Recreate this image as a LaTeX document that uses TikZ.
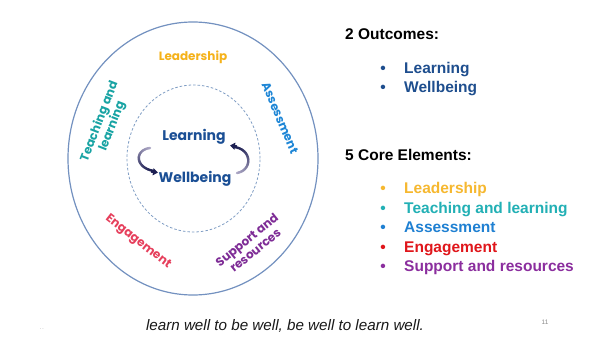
\documentclass[tikz,border=0pt]{standalone}
\usepackage{fontspec}
\setmainfont{Liberation Sans}
\newfontfamily\popf{Poppins}
\usetikzlibrary{arrows.meta,shapes.geometric}
\definecolor{ellcol}{HTML}{7391C0}
\definecolor{dashcol}{HTML}{7F9DC4}
\definecolor{cLead}{HTML}{F5B21A}
\definecolor{cTeach}{HTML}{17A3A3}
\definecolor{cAssess}{HTML}{1E86D6}
\definecolor{cEng}{HTML}{E63F5C}
\definecolor{cSupp}{HTML}{7E2C96}
\definecolor{cNavy}{HTML}{1B4F95}
\definecolor{rLead}{HTML}{F6B830}
\definecolor{rTeach}{HTML}{22B0B5}
\definecolor{rAssess}{HTML}{1F80D2}
\definecolor{rEng}{HTML}{E0161B}
\definecolor{rSupp}{HTML}{8B2E9E}
\definecolor{rNavy}{HTML}{1E4E8E}
\definecolor{arrLight}{HTML}{ABA6C4}
\definecolor{arrDark}{HTML}{1D1F52}
\tikzset{
  ring/.style={font=\popf\bfseries\fontsize{12}{13.5}\selectfont, inner sep=0pt, align=center},
  core/.style={font=\popf\bfseries\fontsize{14}{16}\selectfont, text=cNavy, inner sep=0pt},
  head/.style={font=\bfseries\fontsize{15.5}{18}\selectfont, anchor=base west, inner sep=0pt},
  item/.style={font=\bfseries\fontsize{15.5}{18}\selectfont, anchor=base west, inner sep=0pt},
  bul/.style={font=\bfseries\fontsize{15.5}{18}\selectfont, anchor=base, inner sep=0pt},
}
\begin{document}
\begin{tikzpicture}[x=1pt,y=-1pt]
\useasboundingbox[fill=white] (0,0) rectangle (616,339);
% ellipses
\node[ellipse, draw=ellcol, line width=1.2pt, minimum width=250pt, minimum height=273pt, inner sep=0pt] (outer) at (193,158.5) {};
\node[ellipse, draw=dashcol, line width=0.8pt, dash pattern=on 2.5pt off 2pt, minimum width=133pt, minimum height=147pt, inner sep=0pt] (inner) at (193.5,158.5) {};
% ring labels
\node[ring, text=cLead] (lead) at (193,57) {Leadership};
\node[ring, text=cTeach, rotate=69] (teach) at (106,124) {Teaching and\\learning};
\node[ring, text=cAssess, rotate=-67] (assess) at (280,118) {Assessment};
\node[ring, text=cEng, rotate=-38] (eng) at (138,242) {Engagement};
\node[ring, text=cSupp, rotate=39] (supp) at (251,245) {Support and\\resources};
% core
\node[core] (learn) at (194,137) {Learning};
\node[core] (well) at (195,179) {Wellbeing};
% gradient arrows (cubic bezier sampled)
\foreach \i in {0,...,23}{
  \pgfmathsetmacro{\ta}{\i/24}
  \pgfmathsetmacro{\tb}{(\i+1)/24}
  \pgfmathsetmacro{\pc}{100*\i/23}
  \pgfmathsetmacro{\xa}{(1-\ta)^3*150+3*(1-\ta)^2*\ta*134+3*(1-\ta)*\ta^2*135+\ta^3*154}
  \pgfmathsetmacro{\ya}{(1-\ta)^3*148+3*(1-\ta)^2*\ta*150+3*(1-\ta)*\ta^2*168+\ta^3*171}
  \pgfmathsetmacro{\xb}{(1-\tb)^3*150+3*(1-\tb)^2*\tb*134+3*(1-\tb)*\tb^2*135+\tb^3*154}
  \pgfmathsetmacro{\yb}{(1-\tb)^3*148+3*(1-\tb)^2*\tb*150+3*(1-\tb)*\tb^2*168+\tb^3*171}
  \draw[line width=2.4pt, line cap=round, color=arrDark!\pc!arrLight] (\xa,\ya) -- (\xb,\yb);
  \pgfmathsetmacro{\xc}{(1-\ta)^3*237+3*(1-\ta)^2*\ta*253+3*(1-\ta)*\ta^2*252+\ta^3*234}
  \pgfmathsetmacro{\yc}{(1-\ta)^3*173+3*(1-\ta)^2*\ta*170+3*(1-\ta)*\ta^2*149+\ta^3*147}
  \pgfmathsetmacro{\xd}{(1-\tb)^3*237+3*(1-\tb)^2*\tb*253+3*(1-\tb)*\tb^2*252+\tb^3*234}
  \pgfmathsetmacro{\yd}{(1-\tb)^3*173+3*(1-\tb)^2*\tb*170+3*(1-\tb)*\tb^2*149+\tb^3*147}
  \draw[line width=2.4pt, line cap=round, color=arrDark!\pc!arrLight] (\xc,\yc) -- (\xd,\yd);
}
\coordinate (la1) at (151,171.5);
\coordinate (la2) at (158,172.5);
\draw[arrDark, line width=2.4pt, -{Triangle[length=5pt,width=7pt]}] (la1) -- (la2);
\coordinate (ra1) at (237,146.5);
\coordinate (ra2) at (230,145.5);
\draw[arrDark, line width=2.4pt, -{Triangle[length=5pt,width=7pt]}] (ra1) -- (ra2);
% right side list
\node[head] (h1) at (345,39.5) {2 Outcomes:};
\node[bul, text=rNavy] (b1) at (383,73.3) {•};
\node[item, text=rNavy] (o1) at (404,73.3) {Learning};
\node[bul, text=rNavy] (b2) at (383,92.7) {•};
\node[item, text=rNavy] (o2) at (404,92.7) {Wellbeing};
\node[head] (h2) at (345,160.7) {5 Core Elements:};
\node[bul, text=rLead] (b3) at (383,193.3) {•};
\node[item, text=rLead] (e1) at (404,193.3) {Leadership};
\node[bul, text=rTeach] (b4) at (383,213.1) {•};
\node[item, text=rTeach] (e2) at (404,213.1) {Teaching and learning};
\node[bul, text=rAssess] (b5) at (383,232.6) {•};
\node[item, text=rAssess] (e3) at (404,232.6) {Assessment};
\node[bul, text=rEng] (b6) at (383,252.2) {•};
\node[item, text=rEng] (e4) at (404,252.2) {Engagement};
\node[bul, text=rSupp] (b7) at (383,271.7) {•};
\node[item, text=rSupp] (e5) at (404,271.7) {Support and resources};
% footer
\node[font=\itshape\fontsize{15.2}{18}\selectfont, anchor=base, inner sep=0pt, text=black!90] (motto) at (285,330) {learn well to be well, be well to learn well.};
\node[font=\fontsize{6.5}{8}\selectfont, text=black!45, inner sep=0pt] (pg) at (545,322) {11};
\node[font=\fontsize{5}{6}\selectfont, text=black!45, inner sep=0pt] (dots) at (42,329) {.\,.};
\end{tikzpicture}
\end{document}
